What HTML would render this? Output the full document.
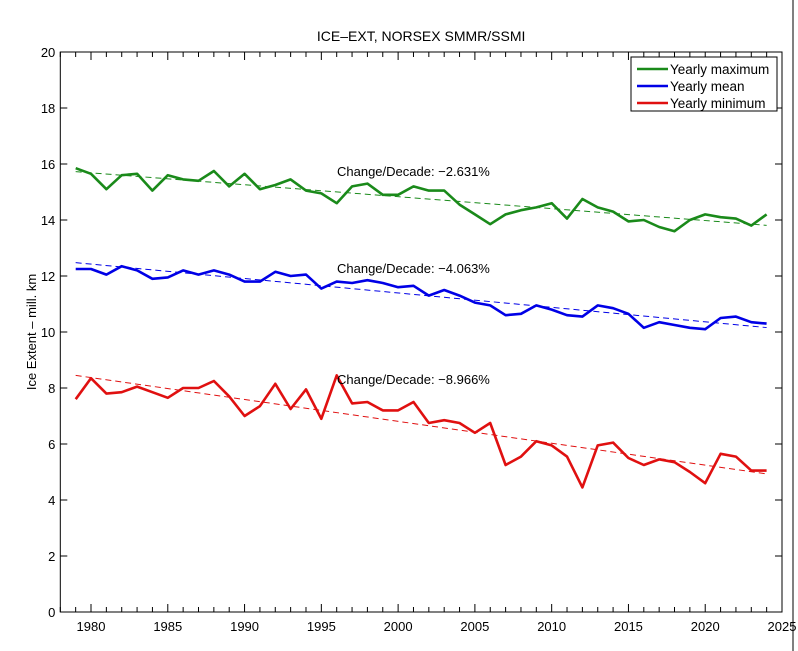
<!DOCTYPE html>
<html><head><meta charset="utf-8"><style>
body{margin:0;background:#fff;}
svg{display:block;font-family:"Liberation Sans",sans-serif;}
</style></head><body>
<svg id="chart" width="798" height="651" viewBox="0 0 798 651"></svg>
<script>
const years=[1979,1980,1981,1982,1983,1984,1985,1986,1987,1988,1989,1990,1991,1992,1993,1994,1995,1996,1997,1998,1999,2000,2001,2002,2003,2004,2005,2006,2007,2008,2009,2010,2011,2012,2013,2014,2015,2016,2017,2018,2019,2020,2021,2022,2023,2024];
const maxVals=[15.85,15.65,15.1,15.6,15.65,15.05,15.6,15.45,15.4,15.75,15.2,15.65,15.1,15.25,15.45,15.05,14.95,14.6,15.2,15.3,14.9,14.9,15.2,15.05,15.05,14.55,14.2,13.85,14.2,14.35,14.45,14.6,14.05,14.75,14.45,14.3,13.95,14.0,13.75,13.6,14.0,14.2,14.1,14.05,13.8,14.2];
const meanVals=[12.25,12.25,12.05,12.35,12.2,11.9,11.95,12.2,12.05,12.2,12.05,11.8,11.8,12.15,12.0,12.05,11.55,11.8,11.75,11.85,11.75,11.6,11.65,11.3,11.5,11.3,11.05,10.95,10.6,10.65,10.95,10.8,10.6,10.55,10.95,10.85,10.65,10.15,10.35,10.25,10.15,10.1,10.5,10.55,10.35,10.3];
const minVals=[7.6,8.35,7.8,7.85,8.05,7.85,7.65,8.0,8.0,8.25,7.7,7.0,7.35,8.15,7.25,7.95,6.9,8.45,7.45,7.5,7.2,7.2,7.5,6.75,6.85,6.75,6.4,6.75,5.25,5.55,6.1,5.95,5.55,4.45,5.95,6.05,5.5,5.25,5.45,5.35,5.0,4.6,5.65,5.55,5.05,5.05];
const xTicks=[1980,1985,1990,1995,2000,2005,2010,2015,2020,2025];
const yTicks=[0,2,4,6,8,10,12,14,16,18,20];
const changeLabels=["Change/Decade: \u22122.631%","Change/Decade: \u22124.063%","Change/Decade: \u22128.966%"];

const L=60.3,R=782,T=52,B=612,X0=1978,X1=2025,Y0=0,Y1=20;
const sx=v=>L+(v-X0)/(X1-X0)*(R-L);
const sy=v=>B-(v-Y0)/(Y1-Y0)*(B-T);
const svg=document.getElementById('chart');
const NS='http://www.w3.org/2000/svg';
function mk(tag,attrs,parent){const e=document.createElementNS(NS,tag);for(const k in attrs)e.setAttribute(k,attrs[k]);(parent||svg).appendChild(e);return e;}

let e=mk('rect',{x:L,y:T,width:R-L,height:B-T,fill:'#fff',stroke:'#000','stroke-width':1});


e=mk('line',{x1:793,y1:0,x2:793,y2:651,stroke:'#000','stroke-width':1});



for(let y=X0;y<=X1;y++){
  const x=sx(y);const major=xTicks.includes(y);const len=major?8:5;
  e=mk('line',{x1:x,y1:B,x2:x,y2:B-len,stroke:'#000'});
  
  
  e=mk('line',{x1:x,y1:T,x2:x,y2:T+len,stroke:'#000'});
  
  
}
xTicks.forEach(y=>{
  e=mk('text',{x:sx(y),y:B+19,'font-size':13,'text-anchor':'middle'});e.textContent=y;
  
  
});
yTicks.forEach(v=>{
  const y=sy(v);
  e=mk('line',{x1:L,y1:y,x2:L+7,y2:y,stroke:'#000'});
  
  
  e=mk('line',{x1:R,y1:y,x2:R-7,y2:y,stroke:'#000'});
  
  
  e=mk('text',{x:L-5,y:y+5,'font-size':13,'text-anchor':'end'});e.textContent=v;
  
  
});
e=mk('text',{x:0,y:0,'font-size':13,'text-anchor':'middle',transform:`translate(36,${(T+B)/2}) rotate(-90)`});e.textContent='Ice Extent \u2013 mill. km';


e=mk('text',{x:(L+R)/2,y:41,'font-size':14,'text-anchor':'middle'});e.textContent='ICE\u2013EXT, NORSEX SMMR/SSMI';



const series=[{v:maxVals,c:'#1a8a1a',n:'max'},{v:meanVals,c:'#0000e6',n:'mean'},{v:minVals,c:'#e01010',n:'min'}];
series.forEach((s,i)=>{
  const n=years.length;let mx=0,my=0;for(let k=0;k<n;k++){mx+=years[k];my+=s.v[k];}mx/=n;my/=n;
  let num=0,den=0;for(let k=0;k<n;k++){num+=(years[k]-mx)*(s.v[k]-my);den+=(years[k]-mx)**2;}
  const b=num/den,a=my-b*mx;
  e=mk('line',{x1:sx(years[0]),y1:sy(a+b*years[0]),x2:sx(years[n-1]),y2:sy(a+b*years[n-1]),stroke:s.c,'stroke-width':1,'stroke-dasharray':'6,4'});
  
  
  const pts=years.map((y,k)=>sx(y).toFixed(1)+','+sy(s.v[k]).toFixed(1)).join(' ');
  e=mk('polyline',{points:pts,fill:'none',stroke:s.c,'stroke-width':2.6,'stroke-linejoin':'round'});
  
  
  e=mk('text',{x:337,y:[176,273,384][i],'font-size':13});
  e.textContent=changeLabels[i];
  
  
});

const lg=mk('g',{});


mk('rect',{x:631,y:57,width:146,height:54,fill:'#fff',stroke:'#000'},lg);
['Yearly maximum','Yearly mean','Yearly minimum'].forEach((t,i)=>{
  const y=69+i*17;
  e=mk('line',{x1:637,y1:y,x2:668,y2:y,stroke:series[i].c,'stroke-width':2.5},lg);
  
  
  e=mk('text',{x:670,y:y+5,'font-size':13.5},lg);e.textContent=t;
  
  
});
</script>
</body></html>
